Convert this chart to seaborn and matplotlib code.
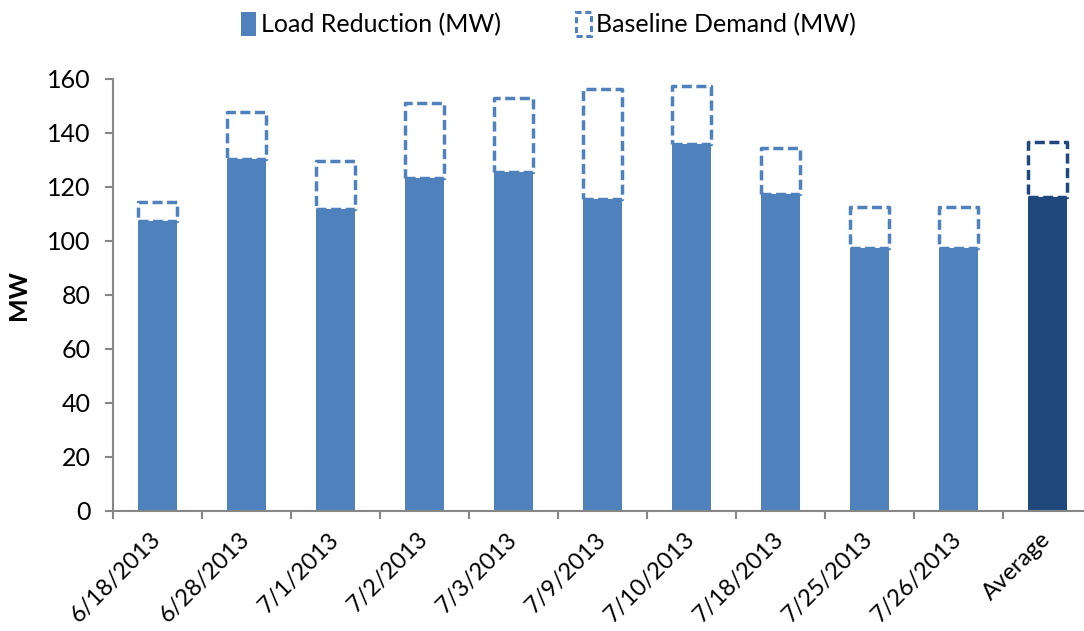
import matplotlib
matplotlib.use('Agg')
import matplotlib.pyplot as plt
import numpy as np
import pandas as pd
import seaborn as sns
from matplotlib.patches import Patch

# Values.
dates = ['6/18/2013', '6/28/2013', '7/1/2013', '7/2/2013', '7/3/2013',
         '7/9/2013', '7/10/2013', '7/18/2013', '7/25/2013', '7/26/2013',
         'Average']
load_reduction = [107.4, 130.4, 111.7, 123.3, 125.6, 115.7, 135.8, 117.4,
                  97.3, 97.3, 116.2]
baseline_demand = [114.6, 147.7, 129.7, 151.1, 153.0, 156.4, 157.5, 134.4,
                   112.6, 112.6, 136.8]
kinds = ['day'] * 10 + ['avg']

light = '#4F81BD'
dark = '#1F497D'
colors = {'day': light, 'avg': dark}

df = pd.DataFrame({'Date': dates, 'Load': load_reduction,
                   'Baseline': baseline_demand, 'Kind': kinds})

sns.set_theme(style='white')
plt.rcParams['font.family'] = ['Lato', 'DejaVu Sans']
plt.rcParams['text.color'] = 'black'
plt.rcParams['axes.labelcolor'] = 'black'
plt.rcParams['xtick.color'] = 'black'
plt.rcParams['ytick.color'] = 'black'

fig = plt.figure(figsize=(10.84, 6.31), dpi=100)
ax = fig.add_axes([113 / 1084, 1 - 511 / 631, 979 / 1084, 432 / 631])

sns.barplot(data=df, x='Date', y='Load', hue='Kind', palette=colors,
            dodge=False, width=0.44, legend=False, saturation=1,
            edgecolor='none', ax=ax)

# Dashed boxes for the remaining baseline demand above each bar.
x = np.arange(len(dates))
for i, row in df.iterrows():
    ax.bar(x[i], row['Baseline'] - row['Load'], bottom=row['Load'],
           width=0.44, facecolor='none', edgecolor=colors[row['Kind']],
           linewidth=2.5, linestyle=(0, (2.9, 1.3)), joinstyle='round')

ax.set_xlim(-0.5, 10.5)
ax.set_ylim(0, 160)
ax.set_yticks(range(0, 161, 20))
ax.set_xticks(x)
ax.set_xticklabels(dates, rotation=45, ha='right', va='center',
                   rotation_mode='anchor')
ax.set_xticks(np.arange(-0.5, 11, 1), minor=True)
ax.tick_params(axis='x', which='major', length=0, pad=18, labelsize=17)
ax.tick_params(axis='x', which='minor', length=6, width=1.5,
               color='#868686', bottom=True)
ax.tick_params(axis='y', length=6, width=1.5, color='#868686', left=True,
               pad=10, labelsize=18)
ax.set_xlabel('')
ax.set_ylabel('MW', fontsize=18, fontweight='bold', labelpad=12)

sns.despine(ax=ax)
for side in ['left', 'bottom']:
    ax.spines[side].set_color('#868686')
    ax.spines[side].set_linewidth(1.5)

handles = [Patch(facecolor=light, edgecolor='none'),
           Patch(facecolor='none', edgecolor=light, linewidth=2.2,
                 linestyle=(0, (2, 1.2)))]
fig.legend(handles, ['Load Reduction (MW)', 'Baseline Demand (MW)'],
           loc='center', bbox_to_anchor=(0.506, 0.962), ncol=2,
           frameon=False, fontsize=18, handlelength=0.6, handleheight=1.1,
           handletextpad=0.2, columnspacing=3.0)

plt.savefig('out.png', dpi=100)
